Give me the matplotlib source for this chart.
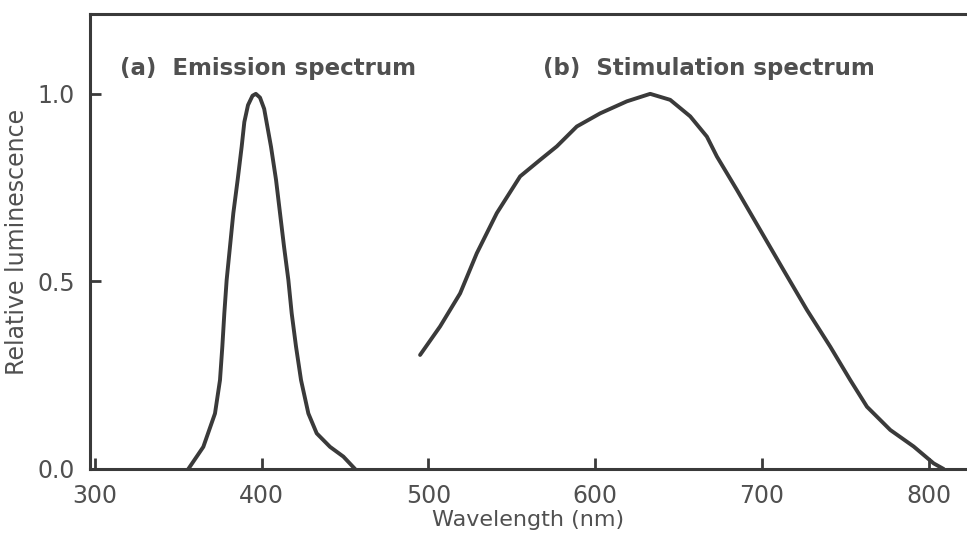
import matplotlib.pyplot as plt

plt.rcParams['font.family'] = ['DejaVu Sans']

# (a) emission spectrum
emission_nm = [356.0, 365.0, 372.0, 375.0, 376.4, 377.6, 379.0, 381.0, 383.0, 385.6, 388.0,
               389.6, 391.8, 394.5, 396.5, 399.0, 401.5, 405.6, 408.6, 411.0, 413.4, 416.0,
               418.0, 420.6, 423.6, 428.0, 433.0, 441.0, 449.0, 456.0]
emission_lum = [0.0, 0.059, 0.148, 0.237, 0.326, 0.415, 0.504, 0.593, 0.682, 0.771, 0.859,
                0.925, 0.97, 0.995, 1.0, 0.99, 0.96, 0.859, 0.771, 0.682, 0.593, 0.504,
                0.415, 0.326, 0.237, 0.148, 0.095, 0.059, 0.033, 0.0]

# (b) stimulation spectrum
stim_nm = [495, 507, 519, 529, 541, 555, 567, 577, 589, 603, 619, 633,
           645, 657, 667, 673, 685, 699, 713, 727, 741, 753, 763, 777, 791, 803, 809]
stim_lum = [0.304, 0.38, 0.468, 0.575, 0.682, 0.78, 0.824, 0.86, 0.913, 0.948, 0.98, 1.0,
            0.984, 0.94, 0.886, 0.833, 0.744, 0.637, 0.53, 0.424, 0.326, 0.237, 0.166,
            0.104, 0.06, 0.015, 0.0]

x_ticks = [300, 400, 500, 600, 700, 800]
y_ticks = [0.0, 0.5, 1.0]
y_tick_labels = ["0.0", "0.5", "1.0"]

line_col = "#3a3a3a"
text_col = "#505050"

fig = plt.figure(figsize=(9.67, 5.36), dpi=100)
ax = fig.add_axes([0.093, 0.125, 0.907, 0.849])

ax.plot(emission_nm, emission_lum, color=line_col, lw=2.8,
        solid_capstyle='round', solid_joinstyle='round')
ax.plot(stim_nm, stim_lum, color=line_col, lw=2.8,
        solid_capstyle='round', solid_joinstyle='round')

ax.set_xlim(297, 823)
ax.set_ylim(0, 1.213)

ax.set_xticks(x_ticks)
ax.set_yticks(y_ticks)
ax.set_yticklabels(y_tick_labels)
ax.tick_params(direction='in', length=8, width=2, color=line_col,
               labelsize=17, labelcolor=text_col)
ax.tick_params(axis='x', pad=11)
ax.tick_params(axis='y', pad=11)

for side in ['left', 'bottom', 'top']:
    ax.spines[side].set_color(line_col)
    ax.spines[side].set_linewidth(2.2)
ax.spines['right'].set_visible(False)

ax.set_xlabel("Wavelength (nm)", fontsize=16, color=text_col, labelpad=1)
ax.set_ylabel("Relative luminescence", fontsize=17, color=text_col, labelpad=6)

ax.text(315, 1.067, "(a)  Emission spectrum", fontsize=16.5, fontweight='bold',
        color=text_col, va='center')
ax.text(569, 1.067, "(b)  Stimulation spectrum", fontsize=16.5, fontweight='bold',
        color=text_col, va='center')

fig.savefig("out.png", dpi=100)
